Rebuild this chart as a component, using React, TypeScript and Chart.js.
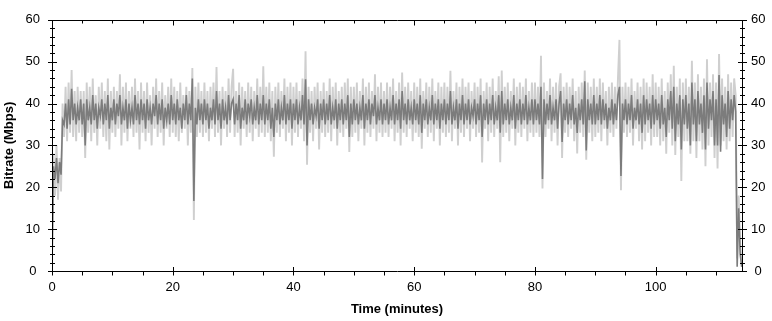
import React, { useEffect, useRef } from 'react';
import { Chart, registerables } from 'chart.js';

Chart.register(...registerables);

// Sampling of the two traces (minutes between successive samples) and axis range
const SAMPLE_STEP_MIN = 0.25;
const X_MAX_MIN = 114.3;
const X_MAJOR_TICKS = [0, 20, 40, 60, 80, 100];
const X_MINOR_STEP = 5;
const Y_MAX = 60;
const Y_MAJOR_STEP = 10;
const Y_MINOR_STEP = 2;

// Averaged bitrate (dark trace), Mbps
const AVG_BITRATE = [
  1.5, 25, 22, 27, 21, 26, 23, 36, 35, 40, 34, 41, 35, 43.5, 36, 40, 35, 39, 36, 41,
  35, 40, 30, 41, 36, 39, 35, 42, 36, 40, 34, 39, 37, 41, 35, 40, 36, 42, 34, 39,
  36, 41, 35, 40, 37, 42, 35, 39, 36, 41, 34, 40, 36, 39, 35, 42, 36, 40, 35, 41,
  36, 40, 34, 41, 36, 39, 35, 40, 37, 42, 35, 40, 36, 41, 34, 39, 36, 40, 35, 42,
  36, 40, 35, 41, 36, 39, 34, 40, 36, 42, 35, 40, 36, 46, 16.7, 39, 35, 41, 36, 40,
  35, 41, 36, 40, 34, 39, 36, 41, 35, 43, 36, 40, 34, 41, 36, 39, 35, 42, 36, 40,
  41, 35, 40, 36, 42, 34, 39, 36, 41, 35, 40, 37, 41, 35, 39, 36, 42, 35, 40, 36,
  42, 35, 40, 36, 41, 34, 39, 32, 40, 36, 41, 35, 39, 36, 42, 35, 40, 36, 41, 34,
  40, 36, 41, 35, 39, 36, 42, 35, 45.8, 30, 41, 36, 40, 35, 39, 37, 41, 34, 40, 36,
  41, 35, 40, 36, 42, 35, 39, 36, 41, 34, 40, 36, 41, 35, 40, 36, 42, 32, 40, 35,
  41, 36, 40, 35, 39, 36, 42, 34, 40, 36, 41, 35, 40, 37, 42, 35, 39, 36, 41, 35,
  40, 36, 41, 35, 39, 36, 42, 35, 40, 36, 41, 34, 43, 36, 40, 35, 41, 36, 39, 35,
  41, 36, 40, 35, 42, 33, 40, 36, 41, 35, 39, 36, 42, 35, 40, 36, 41, 34, 40, 36,
  41, 35, 40, 36, 43, 35, 39, 36, 41, 34, 40, 36, 42, 35, 40, 36, 41, 35, 39, 37,
  41, 35, 40, 36, 42, 32, 40, 36, 41, 35, 40, 36, 42, 35, 39, 36, 42, 33, 43, 35,
  40, 36, 41, 35, 39, 36, 42, 34, 40, 36, 41, 35, 40, 36, 42, 35, 39, 36, 41, 35,
  41, 36, 40, 35, 44, 22, 41, 35, 40, 36, 42, 35, 39, 36, 41, 34, 40, 43, 30.8, 40,
  36, 41, 35, 40, 36, 42, 35, 39, 33, 40, 36, 41, 35, 45.3, 28.8, 41, 36, 40, 35, 42,
  35, 40, 36, 42, 35, 41, 36, 40, 34, 39, 36, 41, 35, 40, 36, 42, 44, 22.7, 40, 36,
  41, 35, 40, 36, 42, 34, 39, 36, 41, 35, 40, 33, 42, 35, 41, 36, 40, 34, 42, 35,
  41, 36, 40, 34, 42, 35, 39, 32, 41, 36, 43, 34, 44, 31, 40, 35, 42, 29, 41, 35,
  42, 34, 40, 30, 45, 35, 41, 31, 43, 35, 40, 33, 42, 29, 45, 34, 41, 36, 43, 30,
  41, 30, 46.8, 28.5, 42, 35, 40, 32, 43, 34, 41, 36, 42, 38, 1, 15, 4, 1,
];

// Per-frame bitrate (light trace), Mbps
const FRAME_BITRATE = [
  2, 28, 18, 30, 17, 27, 19, 40, 32, 44, 31, 45, 33, 48, 32, 43, 31, 44, 33, 43,
  32, 43, 27, 45, 33, 44, 31, 46, 33, 42, 30, 44, 34, 45, 32, 43, 31, 46, 29, 43,
  33, 44, 32, 43, 34, 47, 30, 44, 33, 45, 31, 43, 34, 44, 32, 46, 33, 43, 29, 45,
  33, 43, 31, 45, 33, 42, 30, 44, 34, 46, 32, 43, 33, 45, 30, 42, 34, 44, 32, 46,
  33, 44, 32, 43, 31, 45, 33, 42, 34, 44, 30, 43, 33, 48.5, 12.2, 44, 32, 45, 33, 43,
  32, 45, 33, 43, 31, 44, 34, 45, 32, 48.7, 33, 43, 30, 44, 34, 43, 32, 46, 33, 44,
  48.3, 32, 43, 33, 45, 30, 44, 34, 43, 32, 45, 33, 44, 31, 43, 34, 46, 32, 44, 33,
  48.9, 32, 44, 33, 45, 31, 43, 27.3, 44, 33, 45, 32, 43, 34, 46, 31, 44, 33, 45, 30,
  44, 33, 45, 32, 43, 34, 46, 31, 52.5, 25.4, 44, 33, 43, 31, 44, 34, 45, 29, 43, 33,
  45, 32, 43, 33, 46, 31, 44, 34, 45, 30, 43, 33, 44, 32, 45, 34, 46, 28.4, 44, 32,
  44, 33, 45, 31, 43, 34, 46, 30, 44, 33, 45, 32, 43, 34, 47, 31, 44, 33, 45, 32,
  43, 33, 45, 32, 44, 34, 46, 31, 43, 33, 45, 30, 47.4, 33, 44, 32, 45, 34, 43, 31,
  45, 33, 44, 32, 46, 29.2, 43, 34, 45, 32, 44, 33, 46, 31, 43, 34, 45, 30, 44, 33,
  45, 32, 44, 33, 47.8, 31, 43, 34, 45, 30, 44, 33, 46, 32, 44, 34, 45, 31, 43, 34,
  45, 32, 44, 33, 46, 25.9, 43, 34, 45, 31, 44, 33, 46, 32, 43, 34, 46.5, 26, 47.9, 32,
  44, 33, 45, 31, 43, 34, 46, 30, 44, 33, 45, 32, 44, 34, 46, 31, 43, 33, 45, 32,
  45, 33, 44, 32, 51.4, 19.7, 45, 32, 43, 34, 46, 31, 44, 33, 45, 30, 44, 47.2, 27, 44,
  33, 45, 32, 44, 34, 46, 31, 43, 28.1, 44, 33, 45, 32, 47.9, 26.6, 45, 33, 44, 31, 46,
  32, 44, 33, 46, 31, 45, 34, 43, 30, 44, 33, 45, 32, 44, 34, 46, 55.2, 19.3, 44, 33,
  45, 32, 44, 33, 46, 30, 43, 34, 45, 31, 44, 29, 46, 31, 45, 33, 44, 30, 47, 32,
  45, 32, 44, 30, 46, 31, 43, 28, 45, 33, 47, 30, 49, 27.7, 44, 32, 46, 21.5, 45, 31,
  46, 31, 44, 28, 50.2, 31, 45, 27, 47, 31, 44, 29, 46, 25, 50.6, 30, 45, 32, 47, 27,
  45, 24.5, 51.8, 30, 46, 31, 44, 29, 47, 31, 45, 32, 46, 42, 3, 18, 6, 2,
];

const FONT_FAMILY = '"Liberation Sans", Arial, sans-serif';

const framePlugin = {
  id: 'frameTicks',
  afterDatasetsDraw(chart: any) {
    const { ctx, chartArea, scales } = chart;
    const { left, right, top, bottom } = chartArea;
    const xs = scales.x;
    const ys = scales.y;
    const L = Math.round(left) + 0.5;
    const R = Math.round(right) + 0.5;
    const T = Math.round(top) + 0.5;
    const B = Math.round(bottom) + 0.5;
    ctx.save();
    ctx.strokeStyle = '#000';
    ctx.lineWidth = 1;
    ctx.beginPath();
    ctx.moveTo(L, T); ctx.lineTo(R, T); ctx.lineTo(R, B); ctx.lineTo(L, B); ctx.closePath();
    for (let v = 0; v <= Y_MAX + 1e-9; v += Y_MINOR_STEP) {
      const y = Math.round(ys.getPixelForValue(v)) + 0.5;
      const major = Math.abs(v % Y_MAJOR_STEP) < 1e-9;
      const h = major ? 4.5 : 2.5;
      ctx.moveTo(L - h, y); ctx.lineTo(L + h, y);
      ctx.moveTo(R - h, y); ctx.lineTo(R + h, y);
    }
    for (let v = 0; v <= X_MAX_MIN + 1e-9; v += X_MINOR_STEP) {
      const x = Math.round(xs.getPixelForValue(v)) + 0.5;
      const major = X_MAJOR_TICKS.includes(v);
      if (major) {
        ctx.moveTo(x, B - 4.5); ctx.lineTo(x, B + 4);
        ctx.moveTo(x, T); ctx.lineTo(x, T + 5);
      } else {
        ctx.moveTo(x, B); ctx.lineTo(x, B + 4);
        ctx.moveTo(x, T); ctx.lineTo(x, T + 3);
      }
    }
    ctx.stroke();
    ctx.restore();
  },
};

export default function App() {
  const ref = useRef<HTMLCanvasElement>(null);
  useEffect(() => {
    const canvas = ref.current;
    if (!canvas) return;
    const toPoints = (arr: number[]) => arr.map((y, i) => ({ x: i * SAMPLE_STEP_MIN, y }));
    const tickFont = { family: FONT_FAMILY, size: 13 };
    const titleFont = { family: FONT_FAMILY, size: 13, weight: 'bold' as const };
    const chart = new Chart(canvas, {
      type: 'line',
      data: {
        datasets: [
          {
            label: 'Average bitrate',
            data: toPoints(AVG_BITRATE),
            borderColor: '#7c7c7c',
            borderWidth: 1.6,
            pointRadius: 0,
            tension: 0,
            fill: false,
            order: 0,
          },
          {
            label: 'Frame bitrate',
            data: toPoints(FRAME_BITRATE),
            borderColor: '#cfcfcf',
            borderWidth: 1.9,
            pointRadius: 0,
            tension: 0,
            fill: false,
            order: 1,
          },
        ],
      },
      options: {
        responsive: false,
        animation: false,
        devicePixelRatio: 1,
        events: [],
        layout: { padding: { top: 9, left: 0, right: 0, bottom: 0 } },
        plugins: { legend: { display: false }, tooltip: { enabled: false } },
        scales: {
          x: {
            type: 'linear',
            position: 'bottom',
            min: 0,
            max: X_MAX_MIN,
            afterBuildTicks: (s: any) => {
              s.ticks = X_MAJOR_TICKS.map((value) => ({ value }));
            },
            afterFit: (s: any) => {
              s.height = 50;
            },
            grid: { display: false, drawTicks: false },
            border: { display: false },
            ticks: { font: tickFont, color: '#000', padding: 9, maxRotation: 0, autoSkip: false },
            title: {
              display: true,
              text: 'Time (minutes)',
              font: titleFont,
              color: '#000',
              padding: { top: 0, bottom: 4 },
            },
          },
          y: {
            type: 'linear',
            position: 'left',
            min: 0,
            max: Y_MAX,
            afterFit: (s: any) => {
              s.width = 52;
            },
            grid: { display: false, drawTicks: false },
            border: { display: false },
            ticks: { stepSize: Y_MAJOR_STEP, font: tickFont, color: '#000', padding: 12, crossAlign: 'center' },
            title: {
              display: true,
              text: 'Bitrate (Mbps)',
              font: titleFont,
              color: '#000',
              padding: { top: 2, bottom: 0 },
            },
          },
          y2: {
            type: 'linear',
            position: 'right',
            display: true,
            min: 0,
            max: Y_MAX,
            afterFit: (s: any) => {
              s.width = 30;
            },
            grid: { display: false, drawTicks: false },
            border: { display: false },
            ticks: { stepSize: Y_MAJOR_STEP, font: tickFont, color: '#000', padding: 9, crossAlign: 'center' },
          },
        },
      },
      plugins: [framePlugin],
    });
    return () => chart.destroy();
  }, []);
  return (
    <div style={{ position: 'absolute', left: 0, top: 0, width: 772, height: 321, background: '#fff' }}>
      <canvas ref={ref} width={772} height={321} style={{ display: 'block' }} />
    </div>
  );
}
